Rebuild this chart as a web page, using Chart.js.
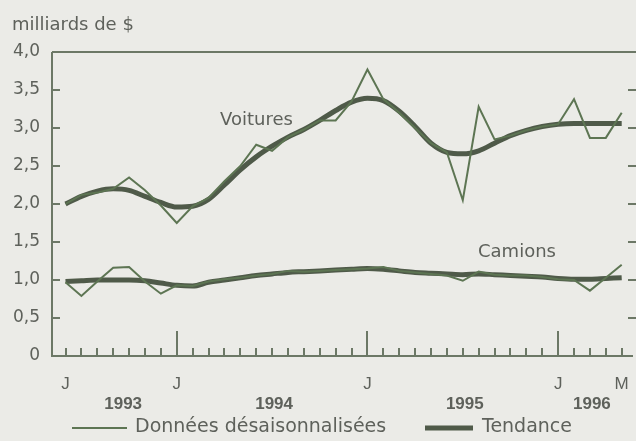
<!DOCTYPE html>
<html>
<head>
<meta charset="utf-8">
<script src="https://cdn.jsdelivr.net/npm/chart.js@4"></script>
<style>
  html, body { margin: 0; padding: 0; background: #ebebe7; }
  canvas { display: block; }
</style>
</head>
<body>
<canvas id="chart" width="636" height="441"></canvas>
<script>
// juin 1993 -> mai 1996, one value per month
const months = ['J','J','A','S','O','N','D',
  'J','F','M','A','M','J','J','A','S','O','N','D',
  'J','F','M','A','M','J','J','A','S','O','N','D',
  'J','F','M','A','M'];

const voituresBrut = [2.00, 2.12, 2.15, 2.20, 2.35, 2.18, 1.98, 1.75, 1.97, 2.08, 2.30, 2.50,
  2.78, 2.70, 2.88, 2.98, 3.10, 3.10, 3.35, 3.77, 3.38, 3.20, 3.00, 2.80,
  2.68, 2.05, 3.28, 2.85, 2.90, 2.97, 3.02, 3.05, 3.38, 2.87, 2.87, 3.20];
const voituresTendance = [2.00, 2.10, 2.17, 2.20, 2.18, 2.10, 2.02, 1.96, 1.97, 2.06, 2.25, 2.45,
  2.62, 2.76, 2.88, 2.98, 3.10, 3.23, 3.34, 3.39, 3.36, 3.22, 3.02, 2.80,
  2.68, 2.66, 2.70, 2.80, 2.90, 2.97, 3.02, 3.05, 3.06, 3.06, 3.06, 3.06];

const camionsBrut = [0.97, 0.79, 0.98, 1.16, 1.17, 0.98, 0.82, 0.93, 0.92, 0.98, 1.01, 1.03,
  1.06, 1.08, 1.12, 1.11, 1.12, 1.13, 1.14, 1.15, 1.17, 1.12, 1.10, 1.08,
  1.06, 0.99, 1.11, 1.07, 1.06, 1.06, 1.04, 1.01, 1.00, 0.86, 1.03, 1.20];
const camionsTendance = [0.98, 0.99, 1.00, 1.00, 1.00, 0.99, 0.96, 0.93, 0.92, 0.97, 1.00, 1.03,
  1.06, 1.08, 1.10, 1.11, 1.12, 1.13, 1.14, 1.15, 1.14, 1.12, 1.10, 1.09,
  1.08, 1.07, 1.08, 1.07, 1.06, 1.05, 1.04, 1.02, 1.01, 1.01, 1.02, 1.03];

const labelTicks = [0, 7, 19, 31, 35];   // months that get a letter under the axis
const majorTicks = [7, 19, 31];          // janvier
const years = ['1993', '1994', '1995', '1996'];
const yTicks = [0, 0.5, 1, 1.5, 2, 2.5, 3, 3.5, 4];

const thinColor = '#5d7553';
const thickColor = '#4f5a49';
const axisColor = '#6c7866';
const textColor = '#5e615b';

function pts(arr) {
  return arr.map((v, i) => ({ x: i, y: v }));
}

const decor = {
  id: 'decor',
  afterDraw(chart) {
    const { ctx, chartArea: a, scales: { x, y } } = chart;
    ctx.save();

    // frame and tick marks
    ctx.strokeStyle = axisColor;
    ctx.lineWidth = 2;
    ctx.beginPath();
    ctx.moveTo(a.left, a.top);
    ctx.lineTo(a.right, a.top);
    ctx.moveTo(a.left, a.top);
    ctx.lineTo(a.left, a.bottom);
    ctx.lineTo(a.right - 3, a.bottom);
    yTicks.slice(1, -1).forEach(v => {
      const py = Math.round(y.getPixelForValue(v));
      ctx.moveTo(a.left, py);
      ctx.lineTo(a.left + 8, py);
      ctx.moveTo(a.right - 8, py);
      ctx.lineTo(a.right, py);
    });
    months.forEach((m, i) => {
      const px = Math.round(x.getPixelForValue(i));
      const len = majorTicks.includes(i) ? 25 : 8;
      ctx.moveTo(px, a.bottom);
      ctx.lineTo(px, a.bottom - len);
    });
    ctx.stroke();

    // month letters and years
    ctx.fillStyle = textColor;
    ctx.textAlign = 'center';
    ctx.textBaseline = 'middle';
    ctx.font = '17px "Liberation Sans", Arial, sans-serif';
    labelTicks.forEach(i => {
      ctx.fillText(months[i], x.getPixelForValue(i), 384);
    });
    ctx.font = 'bold 17px "Liberation Sans", Arial, sans-serif';
    years.forEach((yr, k) => {
      const mid = (labelTicks[k] + labelTicks[k + 1]) / 2;
      ctx.fillText(yr, x.getPixelForValue(mid) + 2, 404);
    });

    // titles
    ctx.textAlign = 'left';
    ctx.font = '18px "DejaVu Sans", sans-serif';
    ctx.fillText('milliards de $', 12, 25);
    ctx.fillText('Voitures', 220, 120);
    ctx.fillText('Camions', 478, 252);

    // legend
    ctx.font = '19px "DejaVu Sans", sans-serif';
    ctx.fillText('Données désaisonnalisées', 135, 427);
    ctx.fillText('Tendance', 482, 427);
    ctx.lineCap = 'butt';
    ctx.strokeStyle = thinColor;
    ctx.lineWidth = 2;
    ctx.beginPath();
    ctx.moveTo(72, 428);
    ctx.lineTo(127, 428);
    ctx.stroke();
    ctx.strokeStyle = thickColor;
    ctx.lineWidth = 5;
    ctx.beginPath();
    ctx.moveTo(425, 428);
    ctx.lineTo(473, 428);
    ctx.stroke();

    ctx.restore();
  }
};

const ctx = document.getElementById('chart').getContext('2d');

new Chart(ctx, {
  type: 'line',
  data: {
    datasets: [
      { label: 'Voitures brut', data: pts(voituresBrut), borderColor: thinColor, borderWidth: 2, tension: 0, pointRadius: 0 },
      { label: 'Camions brut', data: pts(camionsBrut), borderColor: thinColor, borderWidth: 2, tension: 0, pointRadius: 0 },
      { label: 'Voitures tendance', data: pts(voituresTendance), borderColor: thickColor, borderWidth: 5, cubicInterpolationMode: 'monotone', pointRadius: 0 },
      { label: 'Camions tendance', data: pts(camionsTendance), borderColor: thickColor, borderWidth: 5, cubicInterpolationMode: 'monotone', pointRadius: 0 }
    ]
  },
  options: {
    responsive: false,
    animation: false,
    devicePixelRatio: 1,
    layout: { padding: { top: 52, right: 0, bottom: 85, left: 0 } },
    plugins: {
      legend: { display: false },
      tooltip: { enabled: false }
    },
    scales: {
      x: {
        type: 'linear',
        display: false,
        min: -0.85,
        max: 35.9
      },
      y: {
        min: 0,
        max: 4,
        afterFit(scale) { scale.width = 52; },
        afterBuildTicks(scale) { scale.ticks = yTicks.map(v => ({ value: v })); },
        grid: { display: false, drawTicks: false },
        border: { display: false },
        ticks: {
          padding: 12,
          color: textColor,
          font: { family: '"DejaVu Sans", sans-serif', size: 17 },
          callback: v => v === 0 ? '0' : v.toFixed(1).replace('.', ',')
        }
      }
    }
  },
  plugins: [decor]
});
</script>
</body>
</html>
